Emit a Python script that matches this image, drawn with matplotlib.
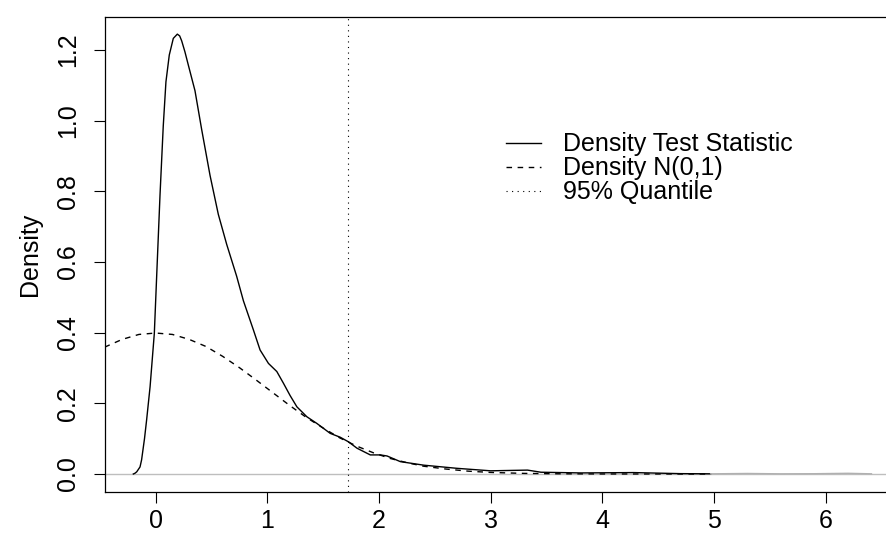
import numpy as np
import matplotlib
matplotlib.use("Agg")
import matplotlib.pyplot as plt

plt.rcParams['font.family'] = ['Liberation Sans', 'DejaVu Sans']

# density of the test statistic
stat_x = [-0.20, -0.186, -0.17, -0.14, -0.126, -0.10, -0.081, -0.05, -0.012, 0.009,
          0.039, 0.068, 0.092, 0.122, 0.158, 0.194, 0.215, 0.233, 0.262, 0.292, 0.352,
          0.412, 0.487, 0.561, 0.636, 0.725, 0.786, 0.875, 0.935, 1.010, 1.085,
          1.144, 1.204, 1.265, 1.354, 1.444, 1.563, 1.653, 1.727, 1.803, 1.922,
          2.012, 2.072, 2.191, 2.40, 2.70, 3.00, 3.33, 3.45, 3.81, 4.28, 4.70, 4.97]
stat_y = [0.0, 0.002, 0.006, 0.02, 0.04, 0.10, 0.153, 0.247, 0.398, 0.56,
          0.79, 0.985, 1.11, 1.186, 1.233, 1.245, 1.240, 1.226, 1.195, 1.158, 1.085,
          0.975, 0.845, 0.735, 0.65, 0.56, 0.49, 0.408, 0.351, 0.313, 0.290,
          0.257, 0.222, 0.19, 0.162, 0.143, 0.115, 0.104, 0.091, 0.073, 0.054,
          0.054, 0.051, 0.035, 0.025, 0.016, 0.009, 0.011, 0.005, 0.003, 0.004, 0.001, 0.0005]

# far tail of the same density, drawn in grey
tail_x = [4.97, 5.3, 5.6, 5.9, 6.2, 6.41]
tail_y = [0.0005, 0.0015, 0.0005, 0.0008, 0.002, 0.0005]

# N(0,1) density
norm_x = [-0.457, -0.3, -0.15, 0.0, 0.15, 0.3, 0.45, 0.6, 0.75, 0.9, 1.05, 1.2,
          1.35, 1.5, 1.65, 1.8, 1.95, 2.1, 2.25, 2.4, 2.6, 2.8, 3.0, 3.3, 3.6,
          4.0, 4.5, 4.95]
norm_y = [0.359, 0.381, 0.395, 0.399, 0.395, 0.381, 0.361, 0.333, 0.301, 0.266,
          0.230, 0.194, 0.160, 0.130, 0.102, 0.079, 0.060, 0.044, 0.032, 0.022,
          0.014, 0.008, 0.0044, 0.0017, 0.0006, 0.0001, 0.0, 0.0]

quantile_95 = 1.718

fig = plt.figure(figsize=(8.87, 5.34), dpi=100)
ax = fig.add_axes([0.1180, 0.0781, 0.8831, 0.8900])

ax.axhline(0, color='#bebebe', lw=1.0, zorder=1)
ax.plot(stat_x, stat_y, color='black', lw=1.0, label='Density Test Statistic')
ax.plot(tail_x, tail_y, color='#b0b0b0', lw=1.0)
ax.plot(norm_x, norm_y, color='black', lw=1.0, linestyle=(0, (4, 4)),
        label='Density N(0,1)')
ax.axvline(quantile_95, color='black', lw=0.8, linestyle=(0, (1, 4)),
           label='95% Quantile')

ax.set_xlim(-0.4567, 6.558)
ax.set_ylim(-0.0518, 1.2934)
ax.set_xticks([0, 1, 2, 3, 4, 5, 6])
ax.set_yticks([0.0, 0.2, 0.4, 0.6, 0.8, 1.0, 1.2])
ax.set_yticklabels(['0.0', '0.2', '0.4', '0.6', '0.8', '1.0', '1.2'],
                   rotation=90, va='center')
ax.tick_params(labelsize=18, length=8, width=0.8, pad=4)
ax.tick_params(axis='y', pad=10)
ax.set_ylabel('Density', fontsize=18, labelpad=10)
ax.spines['right'].set_visible(False)
for s in ['left', 'bottom', 'top']:
    ax.spines[s].set_linewidth(0.9)

ax.legend(loc='upper left', bbox_to_anchor=(0.571, 0.752),
          bbox_transform=fig.transFigure, frameon=False, fontsize=18,
          handlelength=1.4, handletextpad=0.85, labelspacing=0.0,
          borderpad=0, borderaxespad=0)

fig.savefig('out.png', dpi=100)
